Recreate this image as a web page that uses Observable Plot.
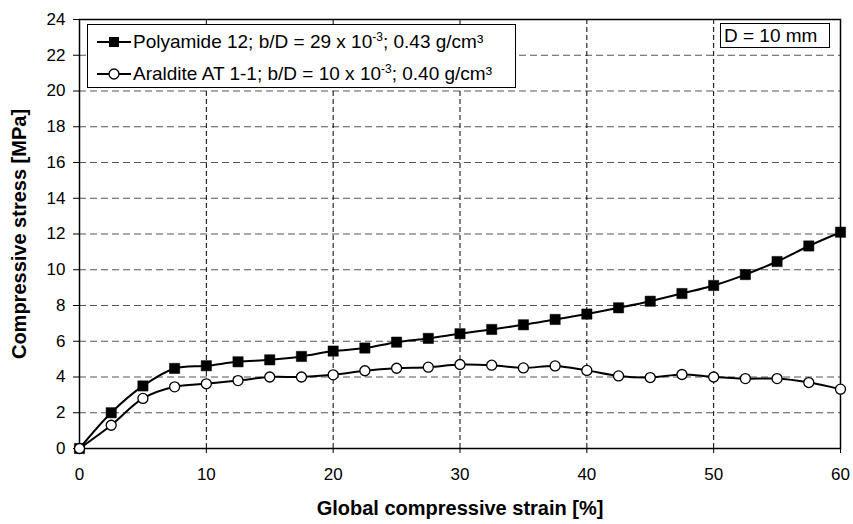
<!DOCTYPE html>
<html><head><meta charset="utf-8">
<script src="https://cdn.jsdelivr.net/npm/d3@7"></script>
<script src="https://cdn.jsdelivr.net/npm/@observablehq/plot@0.6"></script>
<style>
body{margin:0;background:#fff;font-family:"Liberation Sans",Arial,sans-serif;}
#wrap{position:relative;width:853px;height:524px;overflow:hidden;}
#wrap svg{position:absolute;left:0;top:0;font-family:"Liberation Sans",Arial,sans-serif;}
g[aria-label="x-axis label"] text{font-weight:bold;font-size:20px;}
g[aria-label="y-axis label"] text{font-weight:bold;font-size:20px;}
.legend{position:absolute;left:87px;top:24px;width:429px;height:64px;border:1px solid #000;background:#fff;font-size:19px;color:#000;box-sizing:border-box;}
.legend .row{position:absolute;left:9px;height:24px;display:flex;align-items:center;white-space:nowrap;}
.legend svg{position:static !important;margin-right:2px;}
.dbox{position:absolute;left:720px;top:23px;width:110px;height:25px;border:1px solid #000;background:#fff;font-size:19px;line-height:23px;box-sizing:border-box;padding-left:3px;white-space:nowrap;}
sup{font-size:12px;vertical-align:top;position:relative;top:-1px;}
</style></head><body><div id="wrap"></div>
<script>
const strain = [0,2.5,5,7.5,10,12.5,15,17.5,20,22.5,25,27.5,30,32.5,35,37.5,40,42.5,45,47.5,50,52.5,55,57.5,60];
const polyamide = [0,2.0,3.5,4.48,4.63,4.85,4.96,5.15,5.45,5.62,5.95,6.16,6.42,6.66,6.92,7.22,7.52,7.87,8.24,8.67,9.12,9.73,10.46,11.33,12.1];
const araldite = [0,1.30,2.8,3.45,3.62,3.8,4.0,4.0,4.12,4.35,4.49,4.55,4.7,4.66,4.51,4.62,4.37,4.06,3.97,4.14,4.0,3.91,3.91,3.69,3.32];
const seriesNames = ["Polyamide 12; b/D = 29 x 10<sup>-3</sup>; 0.43 g/cm³", "Araldite AT 1-1; b/D = 10 x 10<sup>-3</sup>; 0.40 g/cm³"];
const xTicks = [0,10,20,30,40,50,60];
const yTicks = [0,2,4,6,8,10,12,14,16,18,20,22,24];
const xLabel = "Global compressive strain [%]";
const yLabel = "Compressive stress [MPa]";
const note = "D = 10 mm";

const pa = strain.map((x,i)=>({x, y: polyamide[i]}));
const ar = strain.map((x,i)=>({x, y: araldite[i]}));

const chart = Plot.plot({
  width: 853, height: 524,
  marginLeft: 79, marginRight: 13, marginTop: 19, marginBottom: 76,
  x: {domain: [0,60]},
  y: {domain: [0,24]},
  style: {background: "#fff", color: "#000"},
  marks: [
    Plot.gridY(yTicks.filter(d=>d>0&&d<24), {stroke: "#555", strokeOpacity: 1, strokeWidth: 1, strokeDasharray: "7,4"}),
    Plot.gridX(xTicks.filter(d=>d>0&&d<60), {stroke: "#000", strokeOpacity: 1, strokeWidth: 1, strokeDasharray: "5,3"}),
    Plot.frame({stroke: "#000", strokeWidth: 1.5}),
    Plot.axisX({ticks: xTicks, tickSize: 5, tickPadding: 14, fontSize: 17, label: xLabel, labelAnchor: "center", labelArrow: "none", labelOffset: 66}),
    Plot.axisY({ticks: yTicks, tickSize: 6, tickPadding: 8, fontSize: 17, label: yLabel, labelAnchor: "center", labelArrow: "none", labelOffset: 68}),
    Plot.line(pa, {x: "x", y: "y", stroke: "#000", strokeWidth: 2, curve: "catmull-rom"}),
    Plot.dot(pa, {x: "x", y: "y", symbol: "square", r: 5.8, fill: "#000", stroke: "#000", strokeWidth: 0.5}),
    Plot.line(ar, {x: "x", y: "y", stroke: "#000", strokeWidth: 2, curve: "catmull-rom"}),
    Plot.dot(ar, {x: "x", y: "y", symbol: "circle", r: 5, fill: "#fff", stroke: "#000", strokeWidth: 1.3})
  ]
});
const wrap = document.getElementById("wrap");
wrap.appendChild(chart);

// legend
const leg = document.createElement("div");
leg.className = "legend";
const symbols = [
  `<svg width="34" height="14"><line x1="0" y1="7" x2="34" y2="7" stroke="#000" stroke-width="2"/><rect x="12" y="2" width="10" height="10" fill="#000"/></svg>`,
  `<svg width="34" height="14"><line x1="0" y1="7" x2="34" y2="7" stroke="#000" stroke-width="2"/><circle cx="17" cy="7" r="5" fill="#fff" stroke="#000" stroke-width="1.3"/></svg>`
];
seriesNames.forEach((n,i)=>{
  const r = document.createElement("div");
  r.className = "row";
  r.style.top = (i===0 ? 5 : 37) + "px";
  r.innerHTML = symbols[i] + "<span>" + n + "</span>";
  leg.appendChild(r);
});
wrap.appendChild(leg);

const db = document.createElement("div");
db.className = "dbox";
db.textContent = note;
wrap.appendChild(db);
</script>
</body></html>
